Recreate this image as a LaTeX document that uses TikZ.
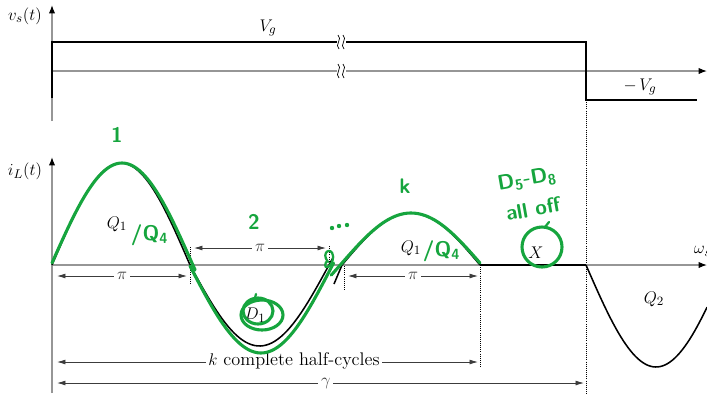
\documentclass[tikz,border=0pt]{standalone}
\usepackage{amsmath,amssymb}
\usetikzlibrary{arrows.meta,positioning,calc}
\definecolor{axgray}{RGB}{150,150,150}
\definecolor{dimgray}{RGB}{60,60,60}
\definecolor{pen}{RGB}{22,165,62}

\begin{document}
\begin{tikzpicture}[
    x=0.025cm, y=-0.025cm,
    ax/.style={axgray, line width=0.8pt, -{Latex[length=6pt,width=4.5pt,color=black]}},
    wave/.style={black, line width=1.1pt},
    dim/.style={dimgray, line width=0.6pt, {Latex[length=6pt,width=3.5pt]}-{Latex[length=6pt,width=3.5pt]}},
    dimlbl/.style={fill=white, inner sep=2pt, font=\fontsize{13}{15}\selectfont},
    guide/.style={black, densely dotted, line width=0.5pt},
    lbl/.style={font=\fontsize{13}{15}\selectfont},
    ink/.style={pen, line width=2.2pt, line cap=round, line join=round},
    hand/.style={pen, font=\sffamily\bfseries\fontsize{15}{16}\selectfont},
  ]
  \useasboundingbox (0,0) rectangle (707,395);

  % source voltage
  \coordinate (vo)   at (52,121);
  \coordinate (vtop) at (52,5);
  \coordinate (vh0)  at (52,71);
  \coordinate (vh1)  at (707,71);
  \draw[ax] (vo) -- (vtop);
  \draw[ax] (vh0) -- (vh1);
  \draw[wave] (52,98) -- (52,42) -- (586,42) -- (586,100) -- (697,100);
  \foreach \yy in {42,71} {
    \fill[white] (337,\yy-7) rectangle (346,\yy+7);
    \draw[black, line width=0.5pt] (338,\yy-7) .. controls (343,\yy-3) and (334,\yy+3) .. (339,\yy+7);
    \draw[black, line width=0.5pt] (343,\yy-7) .. controls (348,\yy-3) and (339,\yy+3) .. (344,\yy+7);
  }
  \node[lbl] (vs)  at (25,16)  {$v_s(t)$};
  \node[lbl] (vg)  at (268,28) {$V_g$};
  \node[lbl] (mvg) at (640,87) {$-\,V_g$};

  % tank current
  \coordinate (io)   at (52,393);
  \coordinate (itop) at (52,157);
  \coordinate (ih0)  at (52,265);
  \coordinate (ih1)  at (707,265);
  \draw[ax] (io) -- (itop);
  \draw[ax] (ih0) -- (ih1);
  \node[lbl] (il) at (25,171) {$i_L(t)$};
  \node[lbl, anchor=west] (ws) at (689,250) {$\omega_s t$};

  \draw[wave] plot[domain=0:180, samples=50] ({52+\x/180*138}, {265-102*sin(\x)});
  \draw[wave] plot[domain=0:186, samples=50] ({190+\x/180*139}, {265+81*sin(\x)});
  \draw[wave] (334,284) -- (342,265);
  \draw[wave] plot[domain=0:180, samples=50] ({342+\x/180*138}, {265-52*sin(\x)});
  \draw[wave] (480,265) -- (586,265);
  \draw[wave] plot[domain=0:155.6, samples=50] ({586+\x/180*140}, {265+102*sin(\x)});

  \draw[guide] (190,247) -- (190,284);
  \draw[guide] (329,246) -- (329,266);
  \draw[guide] (344,266) -- (344,290);
  \draw[guide] (480,265) -- (480,368);
  \draw[guide] (586,100) -- (586,395);

  \node[lbl] (q1a) at (117,224) {$Q_1$};
  \node[lbl] (d1)  at (255,315) {$D_1$};
  \node[lbl] (q1k) at (411,248) {$Q_1$};
  \node[lbl] (x)   at (536,253) {$X$};
  \node[lbl] (q2)  at (654,299) {$Q_2$};

  % dimensions
  \coordinate (p1l) at (57,276);  \coordinate (p1r) at (187,276);
  \coordinate (p2l) at (194,248); \coordinate (p2r) at (326,248);
  \coordinate (p3l) at (348,276); \coordinate (p3r) at (478,276);
  \coordinate (kl)  at (57,362);  \coordinate (kr)  at (478,362);
  \coordinate (gl)  at (57,383);  \coordinate (gr)  at (584,383);
  \draw[dim] (p1l) -- node[dimlbl] (pi1) {$\pi$} (p1r);
  \draw[dim] (p2l) -- node[dimlbl] (pi2) {$\pi$} (p2r);
  \draw[dim] (p3l) -- node[dimlbl] (pi3) {$\pi$} (p3r);
  \draw[dim] (kl) -- (kr);
  \node[dimlbl] (khalf) at (294,361) {$k$ complete half-cycles};
  \draw[dim] (gl) -- node[dimlbl, pos=0.51] (gam) {$\gamma$} (gr);

  % green annotations
  \draw[ink] plot[domain=0:184, samples=50, smooth] ({52+\x/180*140}, {263-100*sin(\x)});
  \draw[ink] plot[domain=0:182, samples=50, smooth] ({190+\x/180*142}, {266+87*sin(\x)});
  \draw[ink] plot[domain=-14:180, samples=50, smooth] ({342+\x/180*138}, {263-50*sin(\x)});
  \draw[ink, line width=1.6pt] (328,262) .. controls (320,252) and (332,246) .. (333,256)
        .. controls (334,266) and (322,272) .. (326,262);
  \foreach \dx/\dy in {332/228, 339/226, 347/225}
    \fill[pen] (\dx,\dy) circle (2.2);
  \draw[ink] (262,315) ellipse (21 and 15);
  \draw[ink] (258,311) ellipse (15 and 13);
  \draw[ink, line width=1.6pt] (255,298) -- (256,294);
  \draw[ink] (542,247) ellipse (20 and 20);
  \draw[ink, line width=1.6pt] (545,227) -- (549,222);
  \node[hand] (n1) at (117,135) {1};
  \node[hand] (n2) at (254,222) {2};
  \node[hand] (nk) at (405,186) {k};
  \node[hand, rotate=10, inner sep=1pt] (doff) at (527,180) {D\textsubscript{5}-D\textsubscript{8}};
  \node[hand, rotate=10, inner sep=1pt] (aoff) at (533,209) {all off};
  \node[hand, anchor=west] (q4a) at (126,235) {/Q\textsubscript{4}};
  \node[hand, anchor=west] (q4k) at (418,251) {/Q\textsubscript{4}};
\end{tikzpicture}
\end{document}
